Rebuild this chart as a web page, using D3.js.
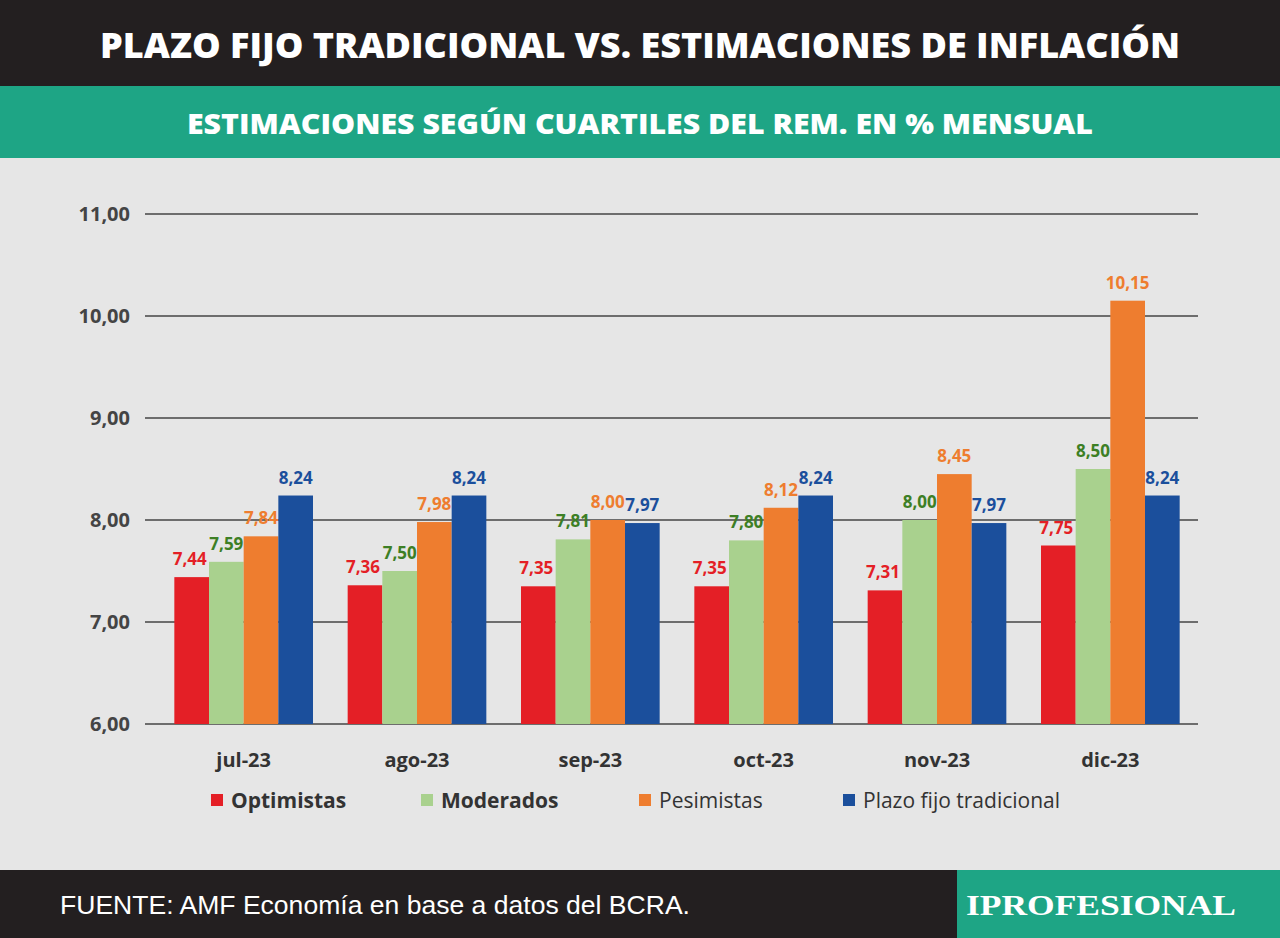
<!DOCTYPE html>
<html><head><meta charset="utf-8">
<script src="https://cdn.jsdelivr.net/npm/d3@7"></script>
<style>body{margin:0;background:#fff}svg{display:block}</style>
</head><body><svg id="c" width="1280" height="938"></svg>
<script>
const categories=["jul-23","ago-23","sep-23","oct-23","nov-23","dic-23"];
const seriesNames=["Optimistas","Moderados","Pesimistas","Plazo fijo tradicional"];
const optimistas=[7.44,7.36,7.35,7.35,7.31,7.75];
const moderados=[7.59,7.50,7.81,7.80,8.00,8.50];
const pesimistas=[7.84,7.98,8.00,8.12,8.45,10.15];
const plazoFijo=[8.24,8.24,7.97,8.24,7.97,8.24];
const yTicks=[6,7,8,9,10,11];
const barColors=["#e41f26","#a9d18e","#ee7d2f","#1b4f9c"];
const labelColors=["#e41f26","#3d7f25","#ee7d2f","#1b4f9c"];
const series=[optimistas,moderados,pesimistas,plazoFijo];
const fmt=v=>d3.format(".2f")(v).replace(".",",");

const svg=d3.select("#c");
svg.append("rect").attr("width",1280).attr("height",938).attr("fill","#e6e6e6");
svg.append("rect").attr("width",1280).attr("height",86).attr("fill","#231f20");
svg.append("rect").attr("y",86).attr("width",1280).attr("height",72).attr("fill","#1ea585");
svg.append("rect").attr("y",870).attr("width",1280).attr("height",68).attr("fill","#231f20");
svg.append("rect").attr("x",957).attr("y",870).attr("width",323).attr("height",68).attr("fill","#1ea585");
svg.append("text").attr("x",640).attr("y",58).attr("text-anchor","middle").attr("fill","#fff")
 .attr("font-family","Open Sans").attr("font-weight",800).attr("font-size",36)
 .attr("textLength",1080).attr("lengthAdjust","spacingAndGlyphs").text("PLAZO FIJO TRADICIONAL VS. ESTIMACIONES DE INFLACIÓN");
svg.append("text").attr("x",640).attr("y",134).attr("text-anchor","middle").attr("fill","#fff")
 .attr("font-family","Open Sans").attr("font-weight",800).attr("font-size",28)
 .attr("textLength",906).attr("lengthAdjust","spacingAndGlyphs").text("ESTIMACIONES SEGÚN CUARTILES DEL REM. EN % MENSUAL");
svg.append("text").attr("x",60).attr("y",914).attr("fill","#fff").attr("font-family","Liberation Sans")
 .attr("font-size",25).attr("textLength",630).attr("lengthAdjust","spacingAndGlyphs").text("FUENTE: AMF Economía en base a datos del BCRA.");
svg.append("text").attr("x",1101).attr("y",915).attr("text-anchor","middle").attr("fill","#fff")
 .attr("font-family","Liberation Serif").attr("font-weight",700).attr("font-size",30)
 .attr("textLength",270).attr("lengthAdjust","spacingAndGlyphs").text("IPROFESIONAL");

const y=d3.scaleLinear().domain([6,11]).range([724,214]);
const x=d3.scaleBand().domain(categories).range([157,1197]).paddingInner(0.2).paddingOuter(0.1);
const xs=d3.scaleBand().domain(d3.range(4)).range([0,x.bandwidth()]);

const g=svg.append("g");
yTicks.forEach(t=>{
 g.append("line").attr("x1",145).attr("x2",1198).attr("y1",y(t)).attr("y2",y(t))
  .attr("stroke","#444").attr("stroke-width",1.5);
 g.append("text").attr("x",130).attr("y",y(t)+7).attr("text-anchor","end").attr("fill","#444")
  .attr("font-family","Open Sans").attr("font-weight",700).attr("font-size",20).text(fmt(t));
});
categories.forEach((c,i)=>{
 series.forEach((s,k)=>{
  const bx=x(c)+xs(k);
  g.append("rect").attr("x",bx).attr("y",y(s[i])).attr("width",xs.bandwidth()).attr("height",y(6)-y(s[i])).attr("fill",barColors[k]);
  g.append("text").attr("x",bx+xs.bandwidth()/2+(k===0?-2:0)).attr("y",y(s[i])-12).attr("text-anchor","middle")
   .attr("fill",labelColors[k]).attr("font-family","Open Sans").attr("font-weight",700).attr("font-size",17).text(fmt(s[i]));
 });
 g.append("text").attr("x",x(c)+x.bandwidth()/2).attr("y",767).attr("text-anchor","middle").attr("fill","#333")
  .attr("font-family","Open Sans").attr("font-weight",700).attr("font-size",20).text(c);
});
const lx=[211,421,639,843];
seriesNames.forEach((n,k)=>{
 svg.append("rect").attr("x",lx[k]).attr("y",794).attr("width",12).attr("height",12).attr("fill",barColors[k]);
 svg.append("text").attr("x",lx[k]+20).attr("y",808).attr("fill","#333").attr("font-family","Open Sans")
  .attr("font-weight",k<2?700:400).attr("font-size",21).text(n);
});
</script></body></html>
